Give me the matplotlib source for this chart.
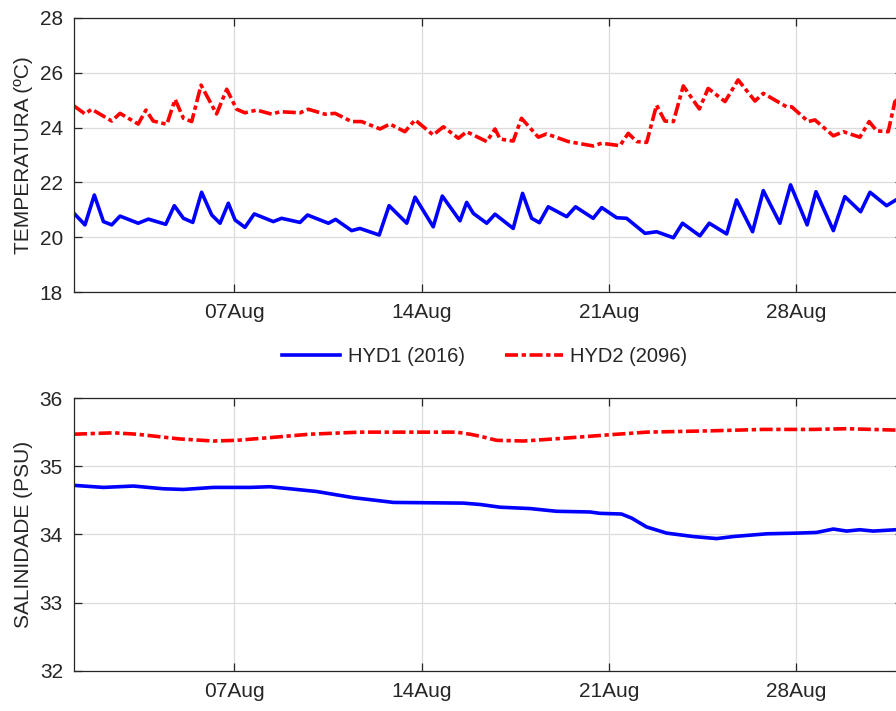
import numpy as np
import matplotlib
matplotlib.use("Agg")
import matplotlib.pyplot as plt
import matplotlib.dates as mdates

# day of August (fractional) and values
t1_day = [1.0, 1.41, 1.76, 2.10, 2.41, 2.72, 3.40, 3.78, 4.43, 4.75, 5.09, 5.44, 5.77, 6.15,
          6.46, 6.77, 7.02, 7.39, 7.74, 8.45, 8.76, 9.45, 9.73, 10.51, 10.78, 11.38, 11.69,
          12.41, 12.78, 13.44, 13.75, 14.43, 14.77, 15.43, 15.68, 15.93, 16.43, 16.74, 17.42,
          17.77, 18.11, 18.40, 18.73, 19.42, 19.75, 20.41, 20.73, 21.29, 21.66, 22.35, 22.78,
          23.41, 23.75, 24.40, 24.75, 25.40, 25.77, 26.37, 26.77, 27.39, 27.79, 28.41, 28.74,
          29.39, 29.82, 30.41, 30.76, 31.38, 31.73, 32.0]
t1_val = [20.87, 20.45, 21.54, 20.57, 20.45, 20.77, 20.51, 20.66, 20.47, 21.15, 20.69, 20.54,
          21.64, 20.81, 20.51, 21.24, 20.63, 20.36, 20.85, 20.57, 20.69, 20.54, 20.81, 20.51,
          20.65, 20.24, 20.32, 20.08, 21.15, 20.51, 21.46, 20.38, 21.50, 20.60, 21.27, 20.87,
          20.51, 20.84, 20.32, 21.60, 20.69, 20.53, 21.11, 20.75, 21.11, 20.69, 21.08, 20.71,
          20.69, 20.14, 20.20, 19.98, 20.51, 20.05, 20.51, 20.12, 21.36, 20.20, 21.70, 20.51,
          21.91, 20.45, 21.66, 20.24, 21.48, 20.93, 21.64, 21.15, 21.36, 21.45]

t2_day = [1.0, 1.41, 1.66, 2.41, 2.72, 3.40, 3.69, 3.96, 4.47, 4.78, 5.09, 5.40, 5.75, 6.33,
          6.71, 7.08, 7.39, 7.83, 8.39, 8.70, 9.45, 9.76, 10.38, 10.76, 11.38, 11.75, 12.44,
          12.81, 13.37, 13.75, 14.43, 14.81, 15.37, 15.68, 16.43, 16.74, 16.93, 17.42, 17.73,
          18.36, 18.67, 19.48, 20.41, 20.73, 21.41, 21.72, 22.04, 22.41, 22.78, 23.09, 23.41,
          23.78, 24.38, 24.71, 25.34, 25.83, 26.46, 26.77, 27.64, 27.83, 28.45, 28.70, 29.39,
          29.76, 30.38, 30.73, 31.01, 31.44, 31.69, 32.0]
t2_val = [24.79, 24.50, 24.67, 24.24, 24.52, 24.13, 24.64, 24.24, 24.12, 25.03, 24.34, 24.22,
          25.55, 24.50, 25.40, 24.67, 24.54, 24.64, 24.49, 24.58, 24.54, 24.67, 24.49, 24.52,
          24.22, 24.22, 23.95, 24.13, 23.85, 24.28, 23.73, 24.03, 23.61, 23.85, 23.49, 23.95,
          23.58, 23.51, 24.34, 23.65, 23.77, 23.49, 23.33, 23.43, 23.34, 23.79, 23.49, 23.46,
          24.82, 24.24, 24.22, 25.52, 24.68, 25.43, 24.95, 25.74, 24.97, 25.25, 24.76, 24.76,
          24.22, 24.28, 23.70, 23.85, 23.65, 24.22, 23.88, 23.85, 24.95, 25.2]

s1_day = [1.0, 2.10, 3.22, 4.34, 5.09, 6.21, 7.58, 8.33, 10.07, 11.44, 12.94, 15.55, 16.18,
          16.93, 18.05, 19.04, 20.29, 20.66, 21.47, 21.85, 22.41, 23.16, 24.15, 25.03, 25.65,
          26.90, 28.01, 28.76, 29.39, 29.89, 30.38, 30.88, 31.73, 32.0]
s1_val = [34.72, 34.69, 34.71, 34.67, 34.66, 34.69, 34.69, 34.70, 34.63, 34.54, 34.47, 34.46,
          34.44, 34.40, 34.38, 34.34, 34.33, 34.31, 34.30, 34.24, 34.11, 34.02, 33.97, 33.94,
          33.97, 34.01, 34.02, 34.03, 34.08, 34.05, 34.07, 34.05, 34.07, 34.07]

s2_day = [1.0, 2.47, 3.34, 4.96, 6.21, 7.08, 8.33, 9.82, 11.69, 13.93, 15.31, 15.80, 16.18,
          16.80, 17.80, 19.29, 20.97, 22.41, 24.90, 26.77, 28.64, 29.89, 31.73, 32.0]
s2_val = [35.47, 35.49, 35.47, 35.40, 35.37, 35.38, 35.42, 35.47, 35.50, 35.50, 35.50, 35.47,
          35.44, 35.38, 35.37, 35.41, 35.46, 35.50, 35.52, 35.54, 35.54, 35.55, 35.53, 35.53]

labels = ["HYD1 (2016)", "HYD2 (2096)"]


def to_dates(days):
    mins = np.round(np.array(days) * 24 * 60).astype(int)
    return np.datetime64("2016-07-31T00:00") + mins.astype("timedelta64[m]")


plt.rcParams["font.family"] = ["Liberation Sans", "DejaVu Sans"]
dark = "#262626"
blue = (0, 0, 1)
red = (1, 0, 0)
dashdot = (0, (3.6, 1.0, 1.2, 1.0))

fig = plt.figure(figsize=(8.96, 7.11), dpi=100)
ax1 = fig.add_axes([0.0826, 0.5893, 0.9254, 0.3854])
ax2 = fig.add_axes([0.0826, 0.0563, 0.9254, 0.3839])

l1, = ax1.plot(to_dates(t1_day), t1_val, color=blue, lw=2.6, solid_joinstyle="round")
l2, = ax1.plot(to_dates(t2_day), t2_val, color=red, lw=2.6, linestyle=dashdot)
ax2.plot(to_dates(s1_day), s1_val, color=blue, lw=2.6, solid_joinstyle="round")
ax2.plot(to_dates(s2_day), s2_val, color=red, lw=2.6, linestyle=dashdot)

for ax, lo, hi, step, lab in [(ax1, 18, 28, 2, "TEMPERATURA (ºC)"),
                              (ax2, 32, 36, 1, "SALINIDADE (PSU)")]:
    ax.set_xlim(np.datetime64("2016-08-01"), np.datetime64("2016-09-01"))
    ax.set_ylim(lo, hi)
    ax.set_yticks(np.arange(lo, hi + 0.1, step))
    ax.xaxis.set_major_locator(mdates.DayLocator(bymonthday=[7, 14, 21, 28]))
    ax.xaxis.set_major_formatter(mdates.DateFormatter("%d%b"))
    ax.grid(True, color="#dcdcdc", lw=0.9)
    ax.set_axisbelow(True)
    ax.tick_params(direction="in", length=6, width=0.9, colors=dark, labelsize=15,
                   top=True, right=True, pad=8)
    for sp in ax.spines.values():
        sp.set_color(dark)
        sp.set_linewidth(0.9)
    ax.set_ylabel(lab, fontsize=15, color=dark)
    ax.yaxis.set_label_coords(-0.0495, 0.5)

fig.legend([l1, l2], labels, loc="center", bbox_to_anchor=(0.541, 0.498), ncol=2,
           frameon=False, fontsize=14.5, handlelength=2.9, columnspacing=2.0,
           handletextpad=0.35, labelcolor=dark)

fig.savefig("out.png", dpi=100)
